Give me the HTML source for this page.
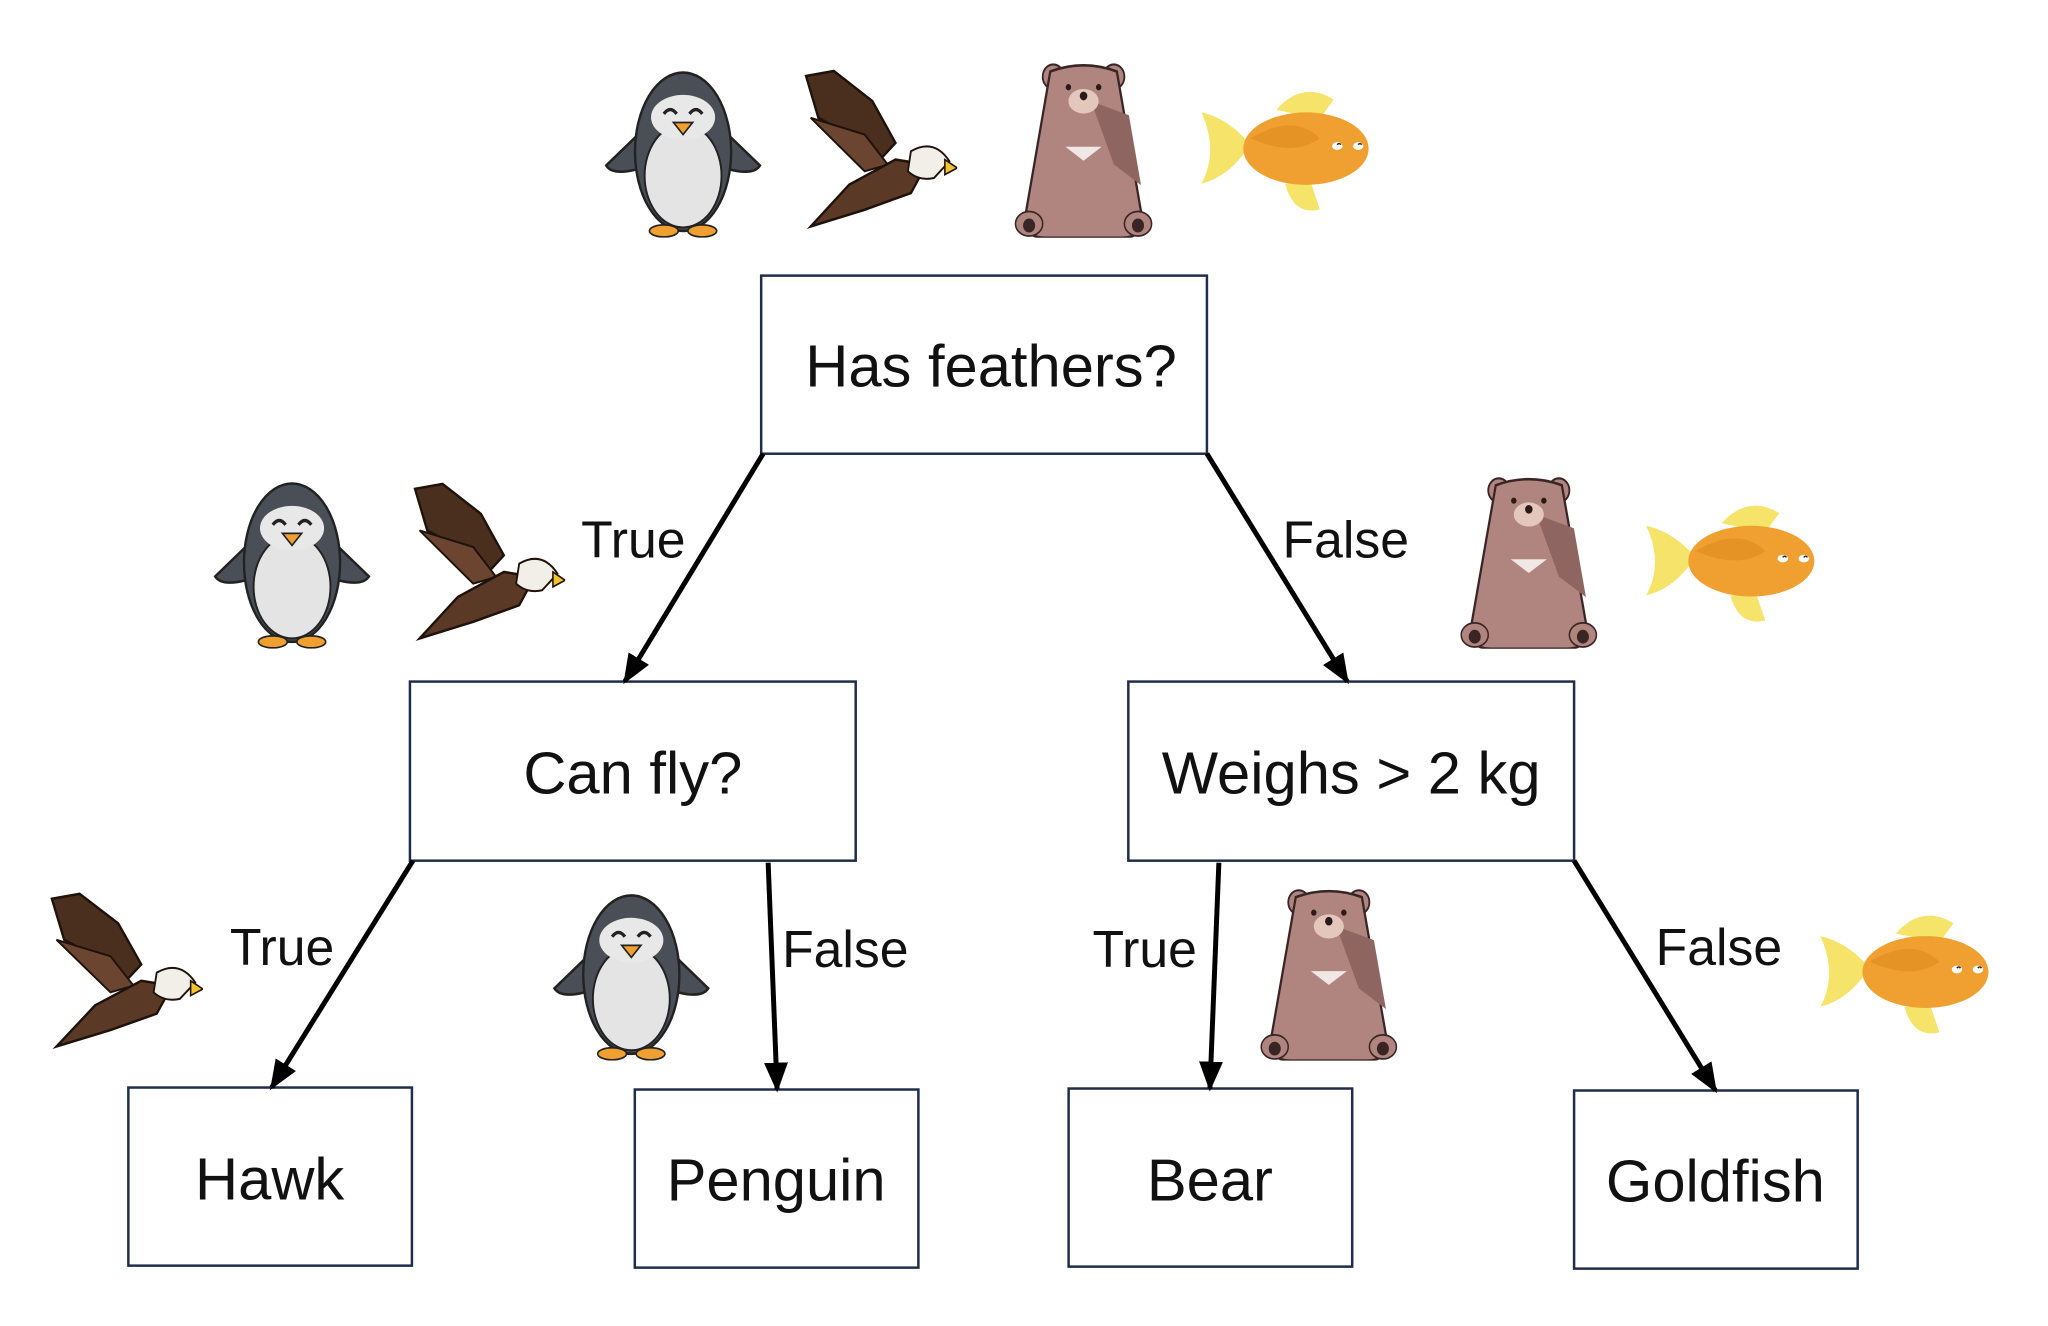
<!DOCTYPE html>
<html><head><meta charset="utf-8"><style>
html,body{margin:0;padding:0;background:#fff}
svg{display:block}
.box{fill:#fff;stroke:#1f2d4a;stroke-width:2.5}
.t{font-family:"Liberation Sans","DejaVu Sans",sans-serif;fill:#111}
.bt{font-size:60px;text-anchor:middle;dominant-baseline:central}
.lt{font-size:52px;dominant-baseline:central}
.ar{stroke:#000;stroke-width:5;fill:none}
</style></head><body>
<svg width="2048" height="1326" viewBox="0 0 2048 1326" xmlns="http://www.w3.org/2000/svg">
<defs>
<marker id="ah" viewBox="0 0 10 10" refX="9" refY="5" markerWidth="6" markerHeight="6" orient="auto" markerUnits="strokeWidth"><path d="M0,1 L10,5 L0,9 z" fill="#000"/></marker>
<symbol id="peng" viewBox="0 0 100 100" preserveAspectRatio="none">
<path d="M22,40 L2,58 Q6,64 22,60 Z" fill="#4a4f57" stroke="#222" stroke-width="1.5"/>
<path d="M78,40 L98,58 Q94,64 78,60 Z" fill="#4a4f57" stroke="#222" stroke-width="1.5"/>
<ellipse cx="50" cy="50" rx="30" ry="46" fill="#4a4f57" stroke="#222" stroke-width="1.5"/>
<ellipse cx="50" cy="64" rx="24" ry="30" fill="#e4e4e4" stroke="#222" stroke-width="1.2"/>
<ellipse cx="50" cy="30" rx="20" ry="13" fill="#e8e8e8"/>
<path d="M38,28 q4,-5 8,0 M54,28 q4,-5 8,0" stroke="#222" stroke-width="2" fill="none"/>
<path d="M44,33 L56,33 L50,40 Z" fill="#f0a030" stroke="#222" stroke-width="1"/>
<ellipse cx="38" cy="96" rx="9" ry="3.5" fill="#f0a030" stroke="#222" stroke-width="1"/>
<ellipse cx="62" cy="96" rx="9" ry="3.5" fill="#f0a030" stroke="#222" stroke-width="1"/>
</symbol>
<symbol id="eagle" viewBox="0 0 100 100" preserveAspectRatio="none">
<path d="M2,5 L20,2 L45,20 L60,45 L50,55 L30,40 L10,30 Z" fill="#4a2e1e" stroke="#1e120b" stroke-width="1.5"/>
<path d="M5,30 L40,40 L55,58 L40,62 Z" fill="#6b4530" stroke="#1e120b" stroke-width="1.2"/>
<path d="M5,95 L30,70 L60,55 L80,58 L70,75 L40,85 Z" fill="#5a3a26" stroke="#1e120b" stroke-width="1.5"/>
<path d="M70,50 Q85,42 95,56 L85,66 Q75,68 68,62 Z" fill="#f2efe8" stroke="#1e120b" stroke-width="1.2"/>
<path d="M92,55 L100,60 L92,64 Z" fill="#f3c22c" stroke="#1e120b" stroke-width="1"/>
</symbol>
<symbol id="bear" viewBox="0 0 100 100" preserveAspectRatio="none">
<circle cx="30" cy="8" r="7" fill="#b08580" stroke="#3a2525" stroke-width="1.2"/>
<circle cx="70" cy="8" r="7" fill="#b08580" stroke="#3a2525" stroke-width="1.2"/>
<path d="M28,5 Q50,-2 72,5 L88,85 Q92,100 75,100 L25,100 Q8,100 12,85 Z" fill="#b08580" stroke="#3a2525" stroke-width="1.5"/>
<path d="M55,22 L80,30 L88,70 L70,58 Z" fill="#8f6561"/>
<ellipse cx="50" cy="22" rx="10" ry="7" fill="#e3c7bd"/>
<circle cx="50" cy="19" r="2.5" fill="#2a1a1a"/>
<circle cx="40" cy="14" r="1.8" fill="#2a1a1a"/><circle cx="60" cy="14" r="1.8" fill="#2a1a1a"/>
<path d="M38,48 L62,48 L50,56 Z" fill="#f0e8e4"/>
<ellipse cx="14" cy="92" rx="9" ry="7" fill="#b08580" stroke="#3a2525"/>
<ellipse cx="86" cy="92" rx="9" ry="7" fill="#b08580" stroke="#3a2525"/>
<circle cx="14" cy="93" r="4" fill="#3a2525"/><circle cx="86" cy="93" r="4" fill="#3a2525"/>
</symbol>
<symbol id="fish" viewBox="0 0 100 100" preserveAspectRatio="none">
<path d="M2,20 Q18,25 30,45 Q18,70 2,75 Q12,50 2,20 Z" fill="#f5e36a"/>
<path d="M45,18 Q60,-5 78,10 L70,25 Z" fill="#f5e36a"/>
<path d="M50,75 Q55,100 70,95 L65,75 Z" fill="#f5e36a"/>
<ellipse cx="62" cy="48" rx="36" ry="28" fill="#f0a030"/>
<path d="M30,40 Q55,20 70,40 Q55,55 30,40 Z" fill="#e08a20" opacity="0.6"/>
<circle cx="80" cy="46" r="3" fill="#fff"/><circle cx="92" cy="46" r="3" fill="#fff"/>
<path d="M80,45 q1,-2 2,0 M92,45 q1,-2 2,0" stroke="#222" stroke-width="1" fill="none"/>
</symbol>
</defs>
<g transform="scale(0.995)">
<rect class="box" x="765" y="277" width="448" height="179"/>
<text class="t bt" x="996" y="368">Has feathers?</text>
<rect class="box" x="412" y="685" width="448" height="180"/>
<text class="t bt" x="636" y="777">Can fly?</text>
<rect class="box" x="1134" y="685" width="448" height="180"/>
<text class="t bt" x="1358" y="777">Weighs &gt; 2 kg</text>
<rect class="box" x="129" y="1093" width="285" height="179"/>
<text class="t bt" x="271" y="1185">Hawk</text>
<rect class="box" x="638" y="1095" width="285" height="179"/>
<text class="t bt" x="780" y="1186">Penguin</text>
<rect class="box" x="1074" y="1094" width="285" height="179"/>
<text class="t bt" x="1216" y="1186">Bear</text>
<rect class="box" x="1582" y="1096" width="285" height="179"/>
<text class="t bt" x="1724" y="1187">Goldfish</text>

<line class="ar" x1="767" y1="456" x2="628" y2="685" marker-end="url(#ah)"/>
<line class="ar" x1="1213" y1="456" x2="1354" y2="685" marker-end="url(#ah)"/>
<line class="ar" x1="415" y1="865" x2="273" y2="1093" marker-end="url(#ah)"/>
<line class="ar" x1="772" y1="867" x2="781" y2="1095" marker-end="url(#ah)"/>
<line class="ar" x1="1225" y1="867" x2="1216" y2="1094" marker-end="url(#ah)"/>
<line class="ar" x1="1582" y1="865" x2="1724" y2="1096" marker-end="url(#ah)"/>

<text class="t lt" x="584" y="542">True</text>
<text class="t lt" x="1289" y="542">False</text>
<text class="t lt" x="231" y="952">True</text>
<text class="t lt" x="786" y="954">False</text>
<text class="t lt" x="1098" y="954">True</text>
<text class="t lt" x="1664" y="952">False</text>

<use href="#peng" x="606" y="66" width="161" height="173"/>
<use href="#eagle" x="807" y="68" width="155" height="168"/>
<use href="#bear" x="1013" y="63" width="152" height="176"/>
<use href="#fish" x="1204" y="87" width="175" height="130"/>
<use href="#peng" x="213" y="479" width="161" height="173"/>
<use href="#eagle" x="414" y="483" width="154" height="167"/>
<use href="#bear" x="1461" y="479" width="151" height="173"/>
<use href="#fish" x="1651" y="503" width="176" height="127"/>
<use href="#eagle" x="49" y="895" width="155" height="165"/>
<use href="#peng" x="554" y="893" width="161" height="173"/>
<use href="#bear" x="1260" y="893" width="151" height="173"/>
<use href="#fish" x="1826" y="915" width="176" height="129"/>
</g>
</svg>
</body></html>
